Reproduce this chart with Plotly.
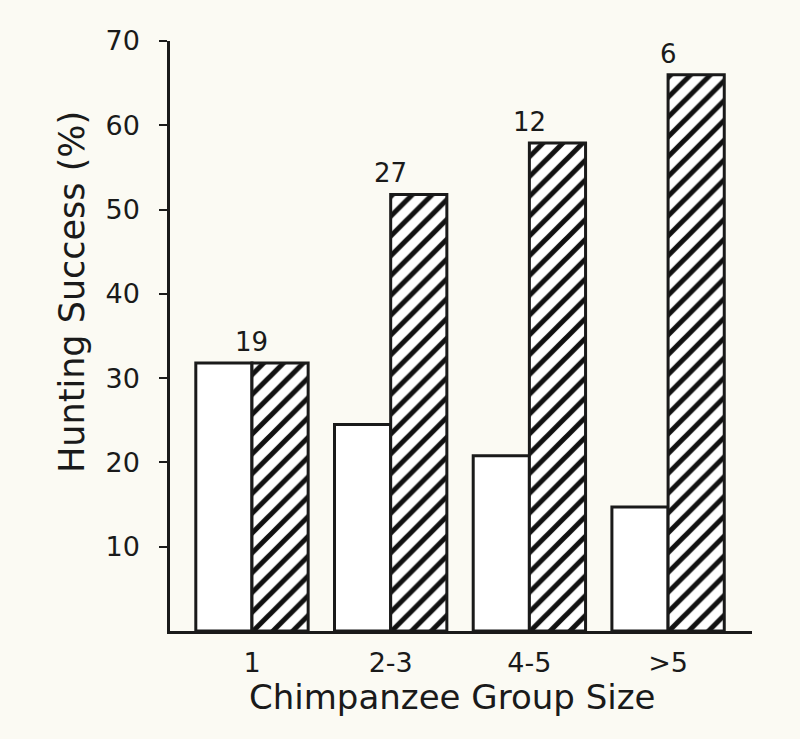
import plotly.graph_objects as go

# Data
categories = ["1", "2-3", "4-5", ">5"]
solo_success = [31.8, 24.5, 20.8, 14.7]      # open bars
group_success = [31.8, 51.8, 57.9, 66.0]     # hatched bars
sample_sizes = ["19", "27", "12", "6"]
y_ticks = [10, 20, 30, 40, 50, 60, 70]

x_pos = list(range(len(categories)))
FONT = "DejaVu Sans"
INK = "#1a1a1a"
BG = "#fbfaf3"

fig = go.Figure()
fig.add_trace(go.Bar(
    x=x_pos, y=solo_success,
    marker=dict(color="white", line=dict(color=INK, width=3)),
    showlegend=False, hoverinfo="y",
))
fig.add_trace(go.Bar(
    x=x_pos, y=group_success,
    marker=dict(color="white", line=dict(color=INK, width=3),
                pattern=dict(shape="/", fgcolor="#111111", bgcolor="white",
                             fgopacity=1, fillmode="replace",
                             size=14, solidity=0.36)),
    showlegend=False, hoverinfo="y",
))

for xi, yi, n in zip(x_pos, [max(a, b) for a, b in zip(solo_success, group_success)], sample_sizes):
    fig.add_annotation(x=xi, y=yi, text=n, showarrow=False, yanchor="bottom",
                       yshift=4, font=dict(family=FONT, size=26, color=INK))

fig.add_annotation(xref="paper", yref="paper", x=0.485, y=-0.112,
                   text="Chimpanzee Group Size", showarrow=False,
                   xanchor="center", yanchor="middle",
                   font=dict(family=FONT, size=34, color=INK))
fig.add_annotation(xref="paper", yref="paper", x=-0.168, y=0.575,
                   text="Hunting Success (%)", showarrow=False, textangle=-90,
                   xanchor="center", yanchor="middle",
                   font=dict(family=FONT, size=35, color=INK))

fig.update_layout(
    width=800, height=739,
    margin=dict(l=170, r=48, t=41, b=108),
    paper_bgcolor=BG, plot_bgcolor=BG,
    barmode="group", bargap=0.19, bargroupgap=0,
    font=dict(family=FONT, color=INK),
)
fig.update_xaxes(
    range=[-0.591, 3.605], tickvals=x_pos, ticktext=categories,
    showline=True, linecolor=INK, linewidth=2.5, showgrid=False, zeroline=False,
    ticks="", tickfont=dict(family=FONT, size=27, color=INK), ticklabelstandoff=6,
)
fig.update_yaxes(
    range=[0, 70], tickvals=y_ticks,
    showline=True, linecolor=INK, linewidth=2.5, showgrid=False, zeroline=False,
    ticks="outside", ticklen=8, tickwidth=2, tickcolor=INK,
    tickfont=dict(family=FONT, size=27, color=INK), ticklabelstandoff=14,
)

fig.write_html("out.html")
